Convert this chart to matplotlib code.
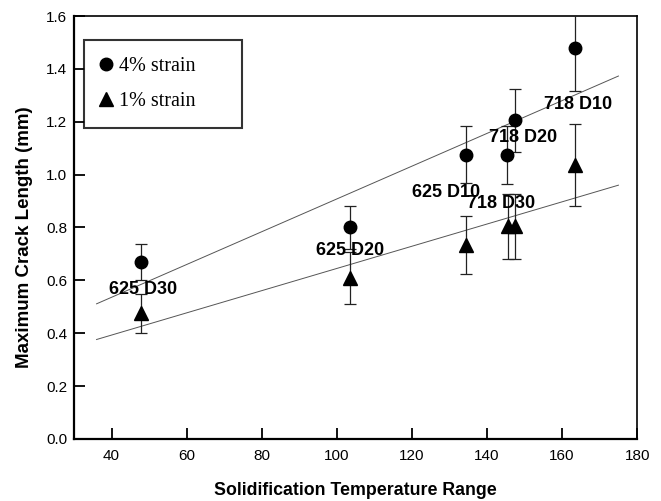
import matplotlib
matplotlib.use("Agg")
import matplotlib.pyplot as plt
from matplotlib.lines import Line2D

# 4% strain (circles)
temp_4 = [47.8, 103.4, 134.4, 145.4, 147.4, 163.3]
crack_4 = [0.67, 0.80, 1.075, 1.075, 1.205, 1.48]
err_4 = [0.067, 0.082, 0.107, 0.11, 0.12, 0.165]

# 1% strain (triangles)
temp_1 = [47.8, 103.4, 134.4, 145.5, 147.5, 163.3]
crack_1 = [0.475, 0.61, 0.735, 0.805, 0.805, 1.035]
err_1 = [0.075, 0.098, 0.11, 0.123, 0.123, 0.155]

# trend lines (end points)
fit_x = [36, 175]
fit_4 = [0.511, 1.373]
fit_1 = [0.376, 0.960]

# alloy labels
alloy_names = ["625 D30", "625 D20", "625 D10", "718 D30", "718 D20", "718 D10"]
alloy_x = [48.3, 103.5, 129.0, 143.8, 149.5, 164.2]
alloy_y = [0.565, 0.711, 0.932, 0.892, 1.141, 1.264]

sans = ["Liberation Sans", "DejaVu Sans"]
serif = ["Liberation Serif", "DejaVu Serif"]

fig = plt.figure(figsize=(6.61, 5.01), dpi=100)
ax = fig.add_axes([0.112, 0.124, 0.852, 0.844])

ax.plot(fit_x, fit_4, color="#555555", lw=0.7, zorder=1)
ax.plot(fit_x, fit_1, color="#555555", lw=0.7, zorder=1)

ax.errorbar(temp_4, crack_4, yerr=err_4, fmt="o", color="black", ms=9,
            ecolor="#222222", elinewidth=0.9, capsize=4, capthick=0.9, zorder=3)
ax.errorbar(temp_1, crack_1, yerr=err_1, fmt="^", color="black", ms=10.5,
            ecolor="#222222", elinewidth=0.9, capsize=4, capthick=0.9, zorder=3)

for name, x, y in zip(alloy_names, alloy_x, alloy_y):
    ax.text(x, y, name, ha="center", va="center", fontsize=13,
            fontweight="bold", family=sans, zorder=4)

ax.set_xlim(30, 180)
ax.set_ylim(0, 1.6)
ax.set_xticks([40, 60, 80, 100, 120, 140, 160, 180])
ax.set_yticks([0.0, 0.2, 0.4, 0.6, 0.8, 1.0, 1.2, 1.4, 1.6])
ax.set_yticklabels(["%.1f" % v for v in ax.get_yticks()])
ax.tick_params(direction="in", length=8, width=1.3, labelsize=11, top=False, right=False)
ax.tick_params(axis="x", pad=7)
ax.tick_params(axis="y", pad=5)
for lab in ax.get_xticklabels() + ax.get_yticklabels():
    lab.set_family(sans)

for side in ["left", "bottom"]:
    ax.spines[side].set_linewidth(1.6)
for side in ["top", "right"]:
    ax.spines[side].set_linewidth(1.2)

ax.set_xlabel("Solidification Temperature Range", fontsize=12.8, fontweight="bold",
              family=sans, labelpad=14)
ax.set_ylabel("Maximum Crack Length (mm)", fontsize=13.5, fontweight="bold",
              family=sans)
ax.yaxis.set_label_coords(-0.073, 0.476)

handles = [
    Line2D([], [], marker="o", color="black", ls="none", ms=9),
    Line2D([], [], marker="^", color="black", ls="none", ms=10.5),
]
leg = ax.legend(handles, ["4% strain", "1% strain"], loc="upper left",
                bbox_to_anchor=(0.018, 0.74, 0.28, 0.203), mode="expand",
                prop={"family": serif, "size": 14.5},
                frameon=True, fancybox=False, edgecolor="black", handlelength=0.5,
                handletextpad=0.4, labelspacing=0.75, borderpad=0.85, borderaxespad=0)
leg.get_frame().set_linewidth(1.5)

fig.savefig("out.png", dpi=100)
